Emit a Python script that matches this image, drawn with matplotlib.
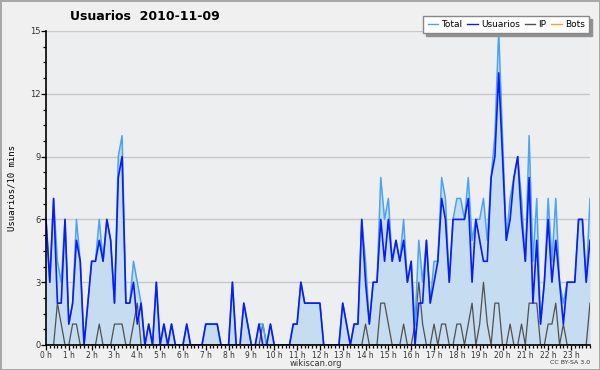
import numpy as np
import matplotlib.pyplot as plt
from matplotlib.lines import Line2D

# users per 10 minutes, 144 slots for 2010-11-09
usuarios = [6, 3, 7, 2, 2, 6, 1, 2, 5, 4, 0, 2, 4, 4, 5, 4, 6, 5, 2, 8, 9, 2, 2, 3,
            1, 2, 0, 1, 0, 3, 0, 1, 0, 1, 0, 0, 0, 1, 0, 0, 0, 0, 1, 1, 1, 1, 0, 0,
            0, 3, 0, 0, 2, 1, 0, 0, 1, 0, 0, 1, 0, 0, 0, 0, 0, 1, 1, 3, 2, 2, 2, 2,
            2, 0, 0, 0, 0, 0, 2, 1, 0, 1, 1, 6, 3, 1, 3, 3, 6, 4, 6, 4, 5, 4, 5, 3,
            4, 0, 2, 2, 5, 2, 3, 4, 7, 6, 3, 6, 6, 6, 6, 7, 3, 6, 5, 4, 4, 8, 9, 13,
            9, 5, 6, 8, 9, 6, 4, 8, 2, 5, 1, 3, 6, 3, 5, 3, 1, 3, 3, 3, 6, 6, 3, 5]
ip = [0, 0, 0, 2, 1, 0, 0, 1, 1, 0, 0, 0, 0, 0, 1, 0, 0, 0, 1, 1, 1, 0, 0, 1,
      2, 0, 0, 0, 0, 0, 0, 0, 0, 0, 0, 0, 0, 0, 0, 0, 0, 0, 0, 0, 0, 0, 0, 0,
      0, 0, 0, 0, 0, 0, 0, 0, 0, 1, 0, 0, 0, 0, 0, 0, 0, 0, 0, 0, 0, 0, 0, 0,
      0, 0, 0, 0, 0, 0, 0, 0, 0, 0, 0, 0, 1, 0, 0, 0, 2, 2, 1, 0, 0, 0, 1, 0,
      0, 1, 3, 1, 0, 0, 1, 0, 1, 1, 0, 0, 1, 1, 0, 1, 2, 0, 1, 3, 1, 0, 2, 2,
      0, 0, 1, 0, 0, 1, 0, 2, 2, 2, 0, 0, 1, 1, 2, 0, 1, 0, 0, 0, 0, 0, 0, 2]
total = [6, 3, 7, 4, 3, 6, 1, 2, 6, 4, 0, 2, 4, 4, 6, 4, 6, 5, 2, 9, 10, 2, 2, 4,
         3, 2, 0, 1, 0, 3, 0, 1, 0, 1, 0, 0, 0, 1, 0, 0, 0, 0, 1, 1, 1, 1, 0, 0,
         0, 3, 0, 0, 2, 1, 0, 0, 1, 1, 0, 1, 0, 0, 0, 0, 0, 1, 1, 3, 2, 2, 2, 2,
         2, 0, 0, 0, 0, 0, 2, 1, 0, 1, 1, 6, 4, 1, 3, 3, 8, 6, 7, 4, 5, 4, 6, 3,
         4, 1, 5, 3, 5, 2, 4, 4, 8, 7, 3, 6, 7, 7, 6, 8, 5, 6, 6, 7, 5, 8, 10, 15,
         10, 5, 7, 8, 9, 7, 4, 10, 4, 7, 1, 3, 7, 4, 7, 3, 2, 3, 3, 3, 6, 6, 3, 7]
bots = [0] * 144
hour_labels = ["%d h" % h for h in range(24)]

c_total = '#4aa3f5'
c_users = '#0a1cf5'
c_ip = '#505050'
c_bots = '#ffa020'

fig = plt.figure(figsize=(6, 3.7), dpi=100, facecolor='#f0f0f0',
                 edgecolor='#a8a8a8', linewidth=2)
ax = fig.add_axes([46/600, 1 - 345/370, 544/600, 314/370])
ax.set_facecolor('#edeef0')

x = np.arange(len(total))
ax.fill_between(x, total, color='#c6dcf0', lw=0, zorder=1)
ax.plot(x, bots, color=c_bots, lw=1, zorder=2)
ax.plot(x, ip, color=c_ip, lw=0.9, zorder=3)
ax.plot(x, total, color=c_total, lw=1.1, zorder=4)
ax.plot(x, usuarios, color=c_users, lw=1.2, zorder=5)

ax.set_xlim(0, 143)
ax.set_ylim(0, 15)
ax.set_yticks(np.arange(0, 16, 3))
ax.set_yticks(np.arange(0, 15.1, 0.75), minor=True)
ax.set_xticks(np.arange(0, 144, 6))
ax.set_xticklabels(hour_labels)
ax.set_xticks(x, minor=True)
ax.yaxis.grid(True, color='#c8c8c8', lw=1)
ax.set_axisbelow(True)
for s in ['top', 'right']:
    ax.spines[s].set_visible(False)
for s in ['left', 'bottom']:
    ax.spines[s].set_color('black')
    ax.spines[s].set_linewidth(1.2)
    ax.spines[s].set_zorder(6)
ax.tick_params(axis='both', which='major', labelsize=6, colors='black',
               labelcolor='#333333', length=3.5, width=0.9, pad=0.5)
ax.tick_params(axis='both', which='minor', length=2.5, width=0.9)
for lab in ax.get_xticklabels():
    lab.set_fontstretch('condensed')

ax.set_ylabel('Usuarios/10 mins', fontsize=6.5, family='DejaVu Sans Mono',
              labelpad=10)

fig.text(145/600, 1 - 17/370, 'Usuarios  2010-11-09', fontsize=9,
         fontweight='bold', ha='center', va='center')
fig.text(316/600, 1 - 363/370, 'wikiscan.org', fontsize=6,
         ha='center', va='center', color='#333333')
fig.text(590/600, 1 - 363/370, 'CC BY-SA 3.0', fontsize=4.5,
         ha='right', va='center', color='#333333')

handles = [Line2D([], [], color=c_total, lw=1),
           Line2D([], [], color=c_users, lw=1),
           Line2D([], [], color=c_ip, lw=1),
           Line2D([], [], color=c_bots, lw=1)]
leg = fig.legend(handles, ['Total', 'Usuarios', 'IP', 'Bots'], ncol=4,
                 loc='upper right', bbox_to_anchor=(589/600, 1 - 16/370),
                 fontsize=6.5, frameon=True, fancybox=False,
                 shadow={'color': '#909090', 'alpha': 1},
                 handlelength=1.2, handletextpad=0.35, columnspacing=0.5,
                 borderpad=0.45, borderaxespad=0)
leg.get_frame().set_edgecolor('#888888')
leg.get_frame().set_facecolor('white')

fig.savefig('out.png', dpi=100, facecolor=fig.get_facecolor(),
            edgecolor=fig.get_edgecolor())
